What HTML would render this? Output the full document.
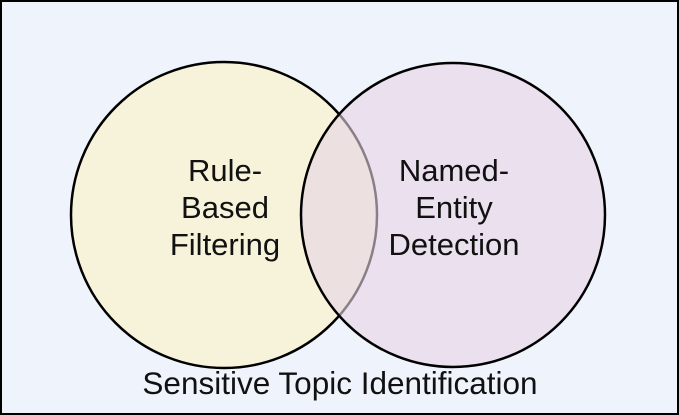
<!DOCTYPE html>
<html><head><style>
html,body{margin:0;padding:0;background:#fff}
</style></head><body>
<svg width="679" height="415" xmlns="http://www.w3.org/2000/svg" style="display:block">
<rect x="1" y="1" width="677" height="413" fill="#eff3fc" stroke="#000" stroke-width="2"/>
<circle cx="224" cy="215" r="153" fill="#f7f3db" stroke="#000" stroke-width="2.5"/>
<circle cx="453" cy="215" r="152" fill="#e6d3e4" fill-opacity="0.6" stroke="#000" stroke-width="2.5"/>
<g font-family="Liberation Sans, sans-serif" font-size="31" fill="#111" text-anchor="middle">
<text x="225" y="181">Rule-</text>
<text x="225" y="218">Based</text>
<text x="225" y="255">Filtering</text>
<text x="454" y="181">Named-</text>
<text x="454" y="218">Entity</text>
<text x="454" y="255">Detection</text>
<text x="340" y="394" font-size="31.5">Sensitive Topic Identification</text>
</g>
</svg>
</body></html>
